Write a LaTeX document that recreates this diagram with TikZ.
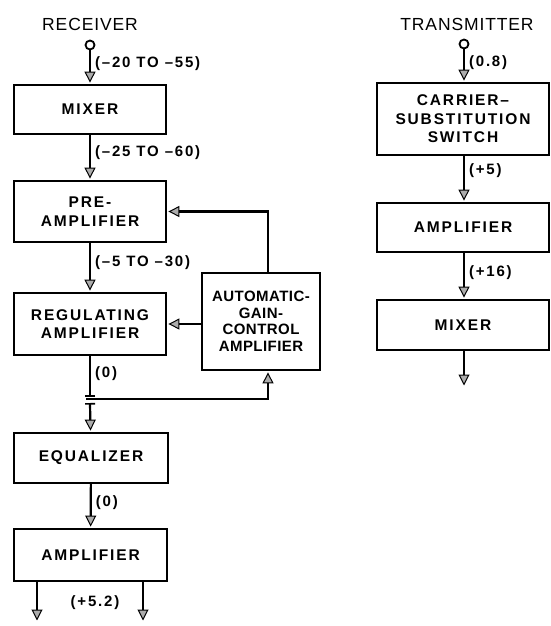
\documentclass[tikz,border=0pt]{standalone}
\usepackage{fontspec}
\setmainfont{Liberation Sans}[LetterSpace=12]
\usetikzlibrary{arrows.meta}

\tikzset{
  blk/.style={draw, line width=1.8pt, inner sep=0pt, align=center,
    font=\fontsize{15.5}{18.5}\selectfont\bfseries},
  sig/.style={line width=2.2pt, shorten >=1.5pt,
    -{Triangle[length=11pt, width=11pt, fill=gray!65, line width=1pt]}},
  lvl/.style={right, inner sep=4pt, font=\fontsize{15}{18}\selectfont\bfseries},
  term/.style={circle, draw, line width=1.8pt, minimum size=9pt, inner sep=0pt},
  hdr/.style={font=\fontsize{17.5}{20}\selectfont\addfontfeature{LetterSpace=5}}
}

\begin{document}
\begin{tikzpicture}[x=1pt, y=-1pt]
  \useasboundingbox (0,0) rectangle (551,626);

  % Receiver column
  \node[hdr] (rxhead) at (90,24) {RECEIVER};
  \node[term] (rin) at (90,45) {};
  \node[blk, minimum width=152pt, minimum height=49pt] (mixer) at (90,109.5) {MIXER};
  \node[blk, minimum width=152pt, minimum height=61pt] (pre) at (90,211.5) {PRE-\\AMPLIFIER};
  \node[blk, minimum width=152pt, minimum height=62pt] (reg) at (90,324) {REGULATING\\AMPLIFIER};
  \node[blk, minimum width=118pt, minimum height=97pt,
    font=\fontsize{15}{16.5}\selectfont\bfseries\addfontfeature{LetterSpace=3}] (agc) at (261,321.5)
    {AUTOMATIC-\\GAIN-\\CONTROL\\AMPLIFIER};
  \node[blk, minimum width=154pt, minimum height=50pt] (equ) at (91,458) {EQUALIZER};
  \node[blk, minimum width=153pt, minimum height=52pt] (amp) at (90.5,555) {AMPLIFIER};

  % Tap point below the regulating amplifier
  \coordinate (jt) at (90,397);
  \coordinate (jb) at (90,403);
  \coordinate (jh) at (86,399);
  \coordinate (o1) at (37,622);
  \coordinate (o2) at (143,622);

  \draw[sig] (rin) -- (mixer) node[lvl, pos=0.4] {(\textendash20 TO \textendash55)};
  \draw[sig] (mixer) -- (pre) node[lvl, pos=0.4] {(\textendash25 TO \textendash60)};
  \draw[sig] (pre) -- (reg) node[lvl, pos=0.4] {(\textendash5 TO \textendash30)};
  \draw[line width=2.2pt, -{Bar[width=10pt, line width=1.6pt]}] (reg) -- (jt) node[lvl, pos=0.42] {(0)};
  \draw[sig, {Bar[width=10pt, line width=1.6pt]}-{Triangle[length=11pt, width=11pt, fill=gray!65, line width=1pt]}]
    (jb) -- (equ);
  \draw[sig] (jh) -| ([xshift=7pt]agc.south);
  \draw[sig] ([xshift=7pt]agc.north) |- (pre.east);
  \draw[sig] (agc.west |- reg.east) -- (reg.east);
  \draw[sig] (equ) -- (amp) node[lvl, pos=0.42] {(0)};
  \draw[sig] (amp.south -| o1) -- (o1);
  \draw[sig] (amp.south -| o2) -- (o2);
  \node[lvl, inner sep=0pt, anchor=center] (outlvl) at (95,603) {(+5.2)};

  % Transmitter column
  \node[hdr] (txhead) at (467,24) {TRANSMITTER};
  \node[term] (tin) at (464,44) {};
  \node[blk, minimum width=172pt, minimum height=72pt] (css) at (463,119)
    {CARRIER\textendash\\SUBSTITUTION\\SWITCH};
  \node[blk, minimum width=172pt, minimum height=49pt] (tamp) at (463,227.5) {AMPLIFIER};
  \node[blk, minimum width=172pt, minimum height=50pt] (tmix) at (463,325) {MIXER};
  \coordinate (tout) at (464,387);

  \draw[sig] (tin) -- (tin |- css.north) node[lvl, pos=0.4] {(0.8)};
  \draw[sig] (tin |- css.south) -- (tin |- tamp.north) node[lvl, pos=0.32] {(+5)};
  \draw[sig] (tin |- tamp.south) -- (tin |- tmix.north) node[lvl, pos=0.42] {(+16)};
  \draw[sig] (tin |- tmix.south) -- (tout);
\end{tikzpicture}
\end{document}
